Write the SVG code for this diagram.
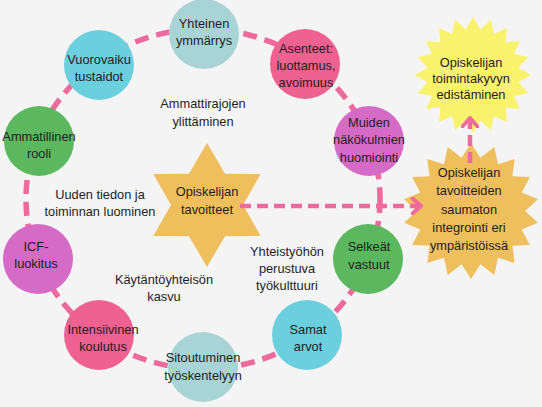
<svg xmlns="http://www.w3.org/2000/svg" width="542" height="407" viewBox="0 0 542 407">
<style>
text{font-family:"Liberation Sans",Arial,sans-serif;font-size:12.8px;fill:#1e1e1e;text-anchor:middle}
.dash{fill:none;stroke:#EC6B9C;stroke-width:5.5;stroke-dasharray:14 8}
.arr{fill:none;stroke:#EC6B9C;stroke-width:4.5;stroke-dasharray:11 6}
.c1{fill:#A9D4D5}.c2{fill:#6BCFDE}.c3{fill:#5CB85E}.c4{fill:#EF6190}.c5{fill:#D56BC6}
</style>
<defs>
<marker id="chev" viewBox="0 0 12 18" markerWidth="12" markerHeight="18" refX="10" refY="9" orient="auto" markerUnits="userSpaceOnUse">
<path d="M1.5,1.5 L10,9 L1.5,16.5" fill="none" stroke="#EC6B9C" stroke-width="3.8" stroke-linecap="round" stroke-linejoin="round"/>
</marker>
</defs>
<rect width="542" height="407" fill="#F4F4F4"/>

<g id="node-toimintakyky">
<polygon fill="#F9F26C" points="473,17 480.2,29.6 490.9,19.8 493.9,34 507.1,28.1 505.5,42.5 519.9,40.9 514,54.1 528.2,57.1 518.4,67.8 531,75 518.4,82.2 528.2,92.9 514,95.9 519.9,109.1 505.5,107.5 507.1,121.9 493.9,116 490.9,130.2 480.2,120.4 473,133 465.8,120.4 455.1,130.2 452.1,116 438.9,121.9 440.5,107.5 426.1,109.1 432,95.9 417.8,92.9 427.6,82.2 415,75 427.6,67.8 417.8,57.1 432,54.1 426.1,40.9 440.5,42.5 438.9,28.1 452.1,34 455.1,19.8 465.8,29.6"/>
<text x="471" y="66.5">Opiskelijan</text>
<text x="471" y="82.5">toimintakyvyn</text>
<text x="471" y="98.5">edistäminen</text>
</g>

<g id="node-integrointi">
<polygon fill="#EEBF5C" points="471,143 480.4,157.8 494.3,147.1 498,164.2 514.7,158.9 512.4,176.3 529.9,177 521.7,192.5 538,199.2 525,211 538,222.8 521.7,229.5 529.9,245 512.4,245.7 514.7,263.1 498,257.8 494.3,274.9 480.4,264.2 471,279 461.6,264.2 447.7,274.9 444,257.8 427.3,263.1 429.6,245.7 412.1,245 420.3,229.5 404,222.8 417,211 404,199.2 420.3,192.5 412.1,177 429.6,176.3 427.3,158.9 444,164.2 447.7,147.1 461.6,157.8"/>
<text x="469" y="177">Opiskelijan</text>
<text x="469" y="195">tavoitteiden</text>
<text x="469" y="214">saumaton</text>
<text x="469" y="232">integrointi eri</text>
<text x="469" y="250">ympäristöissä</text>
</g>

<g id="node-tavoitteet">
<polygon fill="#EEBF5C" points="207,143 225,173.8 260.7,174 243,205 260.7,236 225,236.2 207,267 189,236.2 153.3,236 171,205 153.3,174 189,173.8"/>
<text x="207" y="195.5">Opiskelijan</text>
<text x="207" y="213.5">tavoitteet</text>
</g>

<g id="connectors">
<ellipse class="dash" cx="203" cy="199" rx="177" ry="170"/>
<path class="arr" d="M240,206 L421,206" marker-end="url(#chev)"/>
<path class="arr" d="M470,163 L470,118" marker-end="url(#chev)"/>
</g>

<g id="node-yhteinen"><circle class="c1" cx="204" cy="34" r="35"/><text x="204" y="27.5">Yhteinen</text><text x="204" y="44.5">ymmärrys</text></g>
<g id="node-asenteet"><circle class="c4" cx="305" cy="64" r="35"/><text x="306" y="52.5">Asenteet:</text><text x="306" y="69.5">luottamus,</text><text x="306" y="86.5">avoimuus</text></g>
<g id="node-muiden"><circle class="c5" cx="369" cy="141" r="35"/><text x="369" y="126.5">Muiden</text><text x="369" y="144">näkökulmien</text><text x="369" y="161.5">huomiointi</text></g>
<g id="node-selkeat"><circle class="c3" cx="368" cy="259" r="35"/><text x="369" y="250.5">Selkeät</text><text x="369" y="269">vastuut</text></g>
<g id="node-samat"><circle class="c2" cx="307" cy="335" r="35"/><text x="308" y="333.5">Samat</text><text x="308" y="350.5">arvot</text></g>
<g id="node-sitoutuminen"><circle class="c1" cx="203" cy="367" r="35"/><text x="203" y="361.5">Sitoutuminen</text><text x="203" y="379.5">työskentelyyn</text></g>
<g id="node-intensiivinen"><circle class="c4" cx="99" cy="335" r="35"/><text x="103" y="333.5">Intensiivinen</text><text x="103" y="350.5">koulutus</text></g>
<g id="node-icf"><circle class="c5" cx="38" cy="259" r="35"/><text x="36" y="250.5">ICF-</text><text x="36" y="268">luokitus</text></g>
<g id="node-ammatillinen"><circle class="c3" cx="39" cy="141" r="35"/><text x="39" y="140.5">Ammatillinen</text><text x="39" y="157.5">rooli</text></g>
<g id="node-vuorovaiku"><circle class="c2" cx="99" cy="65" r="35"/><text x="99" y="63.5">Vuorovaiku</text><text x="99" y="80.5">tustaidot</text></g>

<g id="labels">
<text x="203" y="107.5">Ammattirajojen</text>
<text x="203" y="125.5">ylittäminen</text>
<text x="100" y="198.5">Uuden tiedon ja</text>
<text x="100" y="215.5">toiminnan luominen</text>
<text x="164" y="283.5">Käytäntöyhteisön</text>
<text x="164" y="300.5">kasvu</text>
<text x="287" y="255.5">Yhteistyöhön</text>
<text x="287" y="272.5">perustuva</text>
<text x="287" y="289.5">työkulttuuri</text>
</g>
</svg>
